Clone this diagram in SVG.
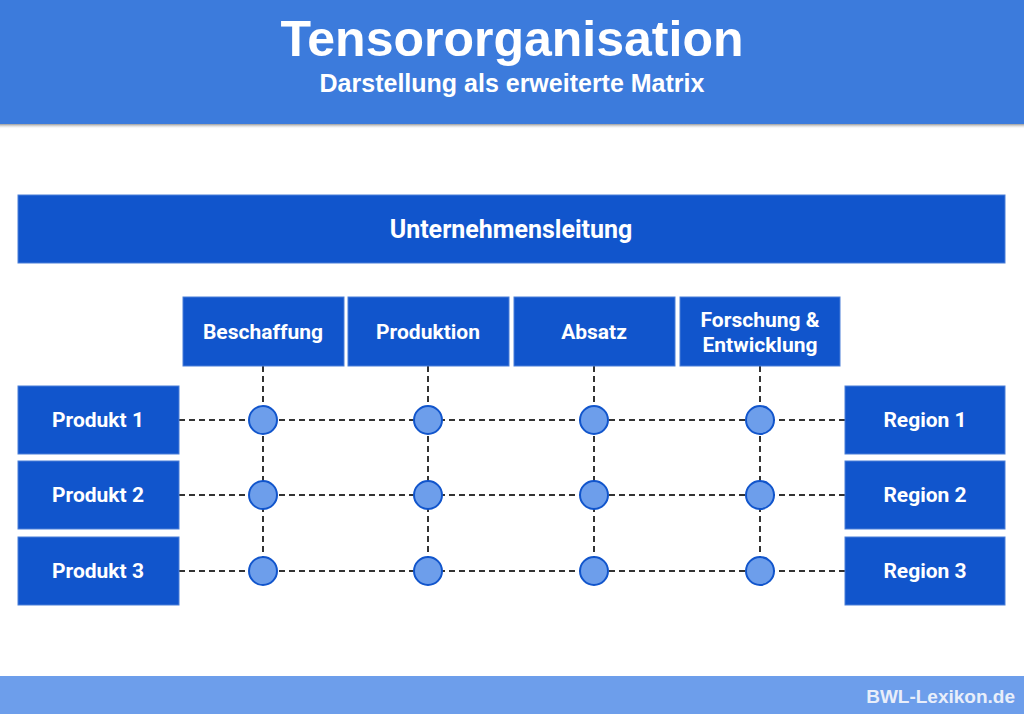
<svg xmlns="http://www.w3.org/2000/svg" width="1024" height="714" viewBox="0 0 1024 714">
<defs>
<linearGradient id="sh" x1="0" y1="0" x2="0" y2="1"><stop offset="0" stop-color="#9a9a9a"/><stop offset="1" stop-color="#ffffff" stop-opacity="0"/></linearGradient>
</defs>
<style>
.box{fill:#1155cc;stroke:#4a7fd8;stroke-width:1}
.lbl{font-family:Roboto,"Liberation Sans",sans-serif;font-weight:bold;font-size:21px;fill:#ffffff;text-anchor:middle}
.big{font-size:25px}
.dash{stroke:#333333;stroke-width:2;stroke-dasharray:6 4;fill:none}
.dot{fill:#6d9eeb;stroke:#1155cc;stroke-width:2}
.hd{font-family:"Liberation Sans",Arial,sans-serif;font-weight:bold;fill:#ffffff;text-anchor:middle}
</style>
<rect width="1024" height="714" fill="#ffffff"/>
<g id="header">
<rect x="0" y="124" width="1024" height="5" fill="url(#sh)"/>
<rect x="0" y="0" width="1024" height="124" fill="#3c7bdc"/>
<text class="hd" x="512" y="56" font-size="50">Tensororganisation</text>
<text class="hd" x="512" y="92" font-size="25">Darstellung als erweiterte Matrix</text>
</g>
<g id="connectors">
<line class="dash" x1="179" y1="420" x2="845" y2="420"/>
<line class="dash" x1="179" y1="495" x2="845" y2="495"/>
<line class="dash" x1="179" y1="571" x2="845" y2="571"/>
<line class="dash" x1="263" y1="366" x2="263" y2="571"/>
<line class="dash" x1="428" y1="366" x2="428" y2="571"/>
<line class="dash" x1="594" y1="366" x2="594" y2="571"/>
<line class="dash" x1="760" y1="366" x2="760" y2="571"/>
</g>
<g id="leitung"><rect class="box" x="18" y="195" width="987" height="68"/><text class="lbl big" x="511" y="238">Unternehmensleitung</text></g>
<g id="beschaffung"><rect class="box" x="183" y="297" width="161" height="69"/><text class="lbl" x="263" y="339">Beschaffung</text></g>
<g id="produktion"><rect class="box" x="348" y="297" width="161" height="69"/><text class="lbl" x="428" y="339">Produktion</text></g>
<g id="absatz"><rect class="box" x="514" y="297" width="161" height="69"/><text class="lbl" x="594" y="339">Absatz</text></g>
<g id="fe"><rect class="box" x="680" y="297" width="160" height="69"/><text class="lbl" x="760" y="327">Forschung &amp;</text><text class="lbl" x="760" y="352">Entwicklung</text></g>
<g id="produkt1"><rect class="box" x="18" y="386" width="161" height="68"/><text class="lbl" x="98" y="427">Produkt 1</text></g>
<g id="produkt2"><rect class="box" x="18" y="461" width="161" height="68"/><text class="lbl" x="98" y="502">Produkt 2</text></g>
<g id="produkt3"><rect class="box" x="18" y="537" width="161" height="68"/><text class="lbl" x="98" y="578">Produkt 3</text></g>
<g id="region1"><rect class="box" x="845" y="386" width="160" height="68"/><text class="lbl" x="925" y="427">Region 1</text></g>
<g id="region2"><rect class="box" x="845" y="461" width="160" height="68"/><text class="lbl" x="925" y="502">Region 2</text></g>
<g id="region3"><rect class="box" x="845" y="537" width="160" height="68"/><text class="lbl" x="925" y="578">Region 3</text></g>
<g id="nodes">
<circle class="dot" cx="263" cy="420" r="14"/><circle class="dot" cx="428" cy="420" r="14"/><circle class="dot" cx="594" cy="420" r="14"/><circle class="dot" cx="760" cy="420" r="14"/>
<circle class="dot" cx="263" cy="495" r="14"/><circle class="dot" cx="428" cy="495" r="14"/><circle class="dot" cx="594" cy="495" r="14"/><circle class="dot" cx="760" cy="495" r="14"/>
<circle class="dot" cx="263" cy="571" r="14"/><circle class="dot" cx="428" cy="571" r="14"/><circle class="dot" cx="594" cy="571" r="14"/><circle class="dot" cx="760" cy="571" r="14"/>
</g>
<g id="footer">
<rect x="0" y="676" width="1024" height="38" fill="#6d9eeb"/>
<text x="1015" y="703" font-family="'Liberation Sans',Arial,sans-serif" font-weight="bold" font-size="19" fill="#e8eefa" text-anchor="end">BWL-Lexikon.de</text>
</g>
</svg>
